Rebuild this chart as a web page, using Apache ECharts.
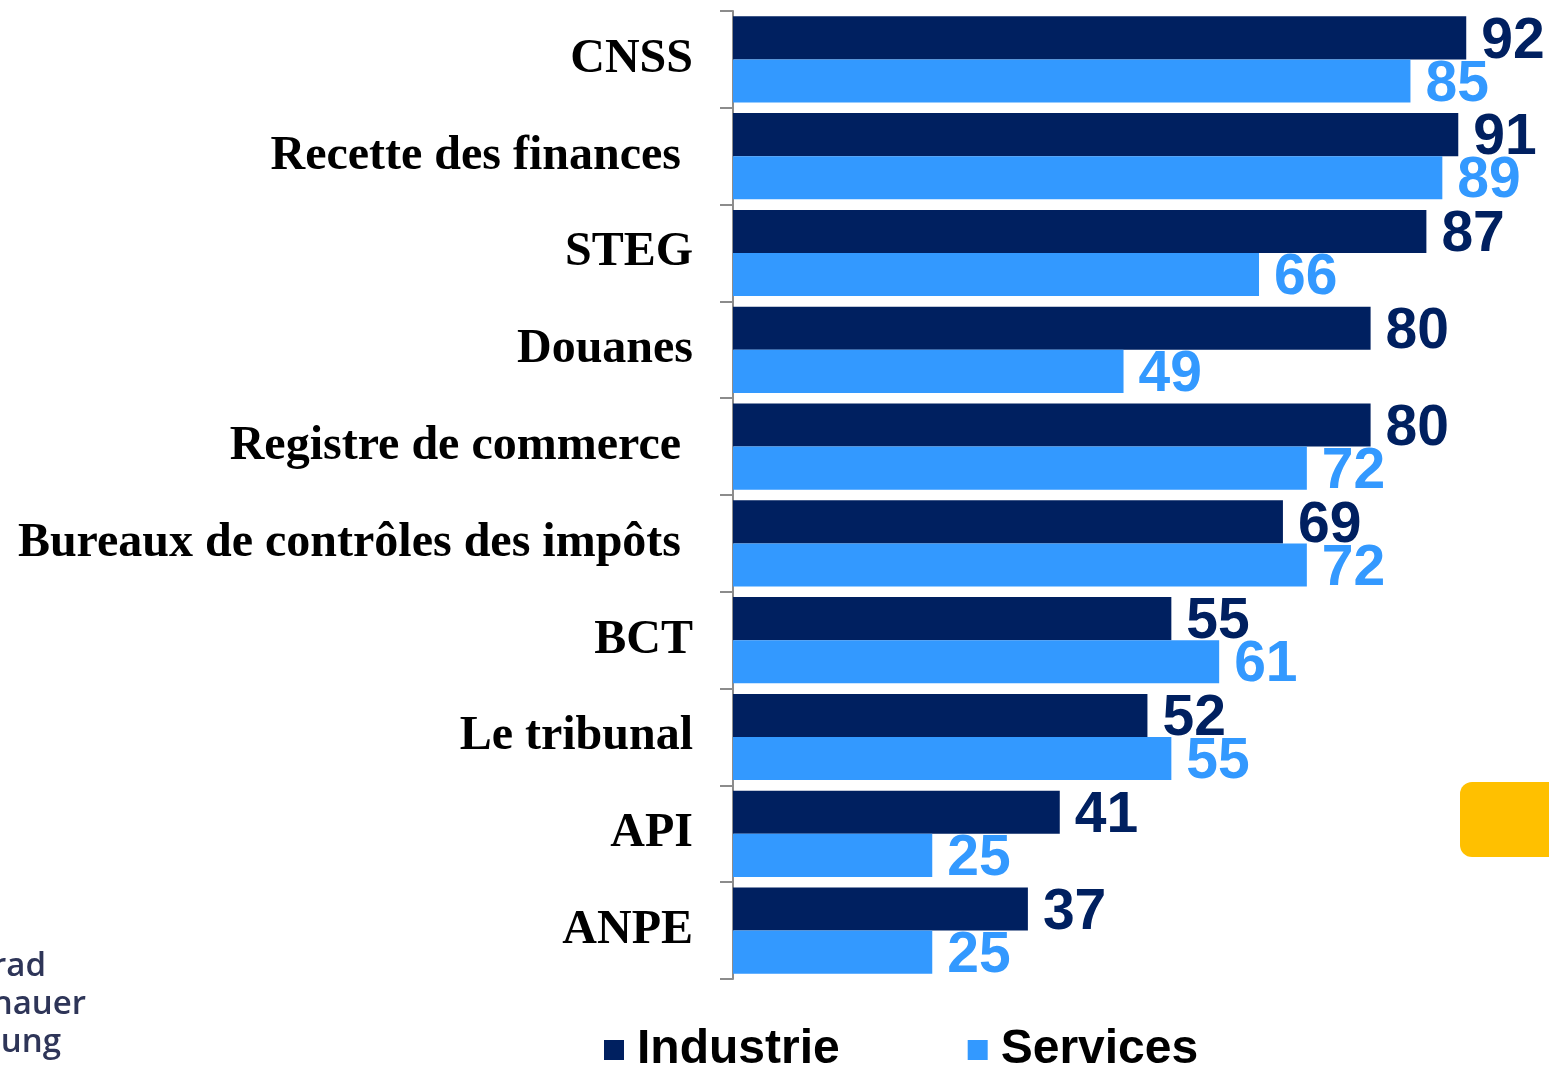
<!DOCTYPE html>
<html>
<head>
<meta charset="utf-8">
<script src="https://cdn.jsdelivr.net/npm/echarts@6/dist/echarts.min.js"></script>
<style>
    html, body { margin: 0; padding: 0; background: #fff; }
    #chart { width: 1549px; height: 1067px; }
</style>
</head>
<body>
<div id="chart"></div>
<script>
// Chart data
const categories = ['CNSS', 'Recette des finances ', 'STEG', 'Douanes', 'Registre de commerce ',
    'Bureaux de contrôles des impôts ', 'BCT', 'Le tribunal', 'API', 'ANPE'];
const industrie = [92, 91, 87, 80, 80, 69, 55, 52, 41, 37];
const services = [85, 89, 66, 49, 72, 72, 61, 55, 25, 25];

const navy = '#002060';
const lightBlue = '#3399ff';

const chart = echarts.init(document.getElementById('chart'));

// Value label style shared by both series
function valueLabel(color) {
    return {
        show: true,
        position: 'right',
        distance: 15,
        offset: [0, 4],
        color: color,
        fontFamily: 'Liberation Sans, Arial, sans-serif',
        fontWeight: 'bold',
        fontSize: 57
    };
}

const option = {
    animation: false,
    backgroundColor: '#fff',
    grid: { left: 733, right: 19, top: 11, bottom: 88 },
    xAxis: {
        type: 'value',
        min: 0,
        max: 100,
        show: false
    },
    yAxis: {
        type: 'category',
        inverse: true,
        data: categories,
        axisLine: { show: true, lineStyle: { color: '#8c8c8c', width: 2 } },
        axisTick: { show: true, length: 13, lineStyle: { color: '#8c8c8c', width: 2 } },
        axisLabel: {
            margin: 40,
            color: '#000',
            fontFamily: 'Liberation Serif, Times New Roman, serif',
            fontWeight: 'bold',
            fontSize: 48
        }
    },
    legend: {
        left: 599,
        top: 1021,
        icon: 'rect',
        itemWidth: 20,
        itemHeight: 20,
        itemGap: 128,
        textStyle: {
            color: '#000',
            fontFamily: 'Liberation Sans, Arial, sans-serif',
            fontWeight: 'bold',
            fontSize: 48,
            padding: [0, 0, 0, 8]
        },
        data: ['Industrie', 'Services']
    },
    series: [
        {
            name: 'Industrie',
            type: 'bar',
            data: industrie,
            barGap: '0%',
            barCategoryGap: '11%',
            itemStyle: { color: navy },
            label: valueLabel(navy)
        },
        {
            name: 'Services',
            type: 'bar',
            data: services,
            barGap: '0%',
            barCategoryGap: '11%',
            itemStyle: { color: lightBlue },
            label: valueLabel(lightBlue)
        }
    ],
    graphic: [
        // partial logo at the bottom-left edge
        {
            type: 'text', right: 1549 - 46, top: 950,
            style: { text: 'Konrad', fill: '#2e3558', font: '600 33px "Open Sans", sans-serif', textAlign: 'right' }
        },
        {
            type: 'text', right: 1549 - 86, top: 988,
            style: { text: 'Adenauer', fill: '#2e3558', font: '600 33px "Open Sans", sans-serif', textAlign: 'right' }
        },
        {
            type: 'text', right: 1549 - 61, top: 1026,
            style: { text: 'Stiftung', fill: '#2e3558', font: '600 33px "Open Sans", sans-serif', textAlign: 'right' }
        },
        // orange box cut off at the right edge
        {
            type: 'rect', left: 1460, top: 782,
            shape: { width: 120, height: 75, r: 12 },
            style: { fill: '#ffc000' }
        }
    ]
};

chart.setOption(option);
</script>
</body>
</html>
